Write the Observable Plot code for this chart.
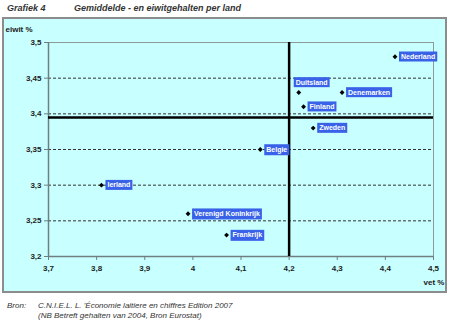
<!DOCTYPE html>
<html><head><meta charset="utf-8">
<script src="https://cdn.jsdelivr.net/npm/d3@7"></script>
<script src="https://cdn.jsdelivr.net/npm/@observablehq/plot@0.6"></script>
<style>
body{margin:0;width:450px;height:325px;background:#fff;font-family:"Liberation Sans",Arial,sans-serif;position:relative;overflow:hidden}
#title{position:absolute;left:7px;top:3px;font-size:9px;font-weight:bold;font-style:italic;color:#333;white-space:nowrap}
#title span{position:absolute;left:67px;top:0}
#panel{position:absolute;left:2px;top:17px;width:441px;height:272px;border:2px solid #8c8c8c;background:#c8ffff}
#panel svg{position:absolute;left:0;top:0}
.foot{position:absolute;font-size:8px;font-style:italic;color:#333;white-space:nowrap}
</style></head>
<body>
<div id="title">Grafiek 4<span>Gemiddelde - en eiwitgehalten per land</span></div>
<div id="panel"></div>
<div class="foot" style="left:7px;top:301px">Bron:</div>
<div class="foot" style="left:38px;top:301px">C.N.I.E.L. L. 'Économie laitiere en chiffres Edition 2007</div>
<div class="foot" style="left:38px;top:311px">(NB Betreft gehalten van 2004, Bron Eurostat)</div>
<script>
const countries = ["Nederland","Duitsland","Denemarken","Finland","Zweden","Belgie","Ierland","Verenigd Koninkrijk","Frankrijk"];
const fat = [4.42, 4.22, 4.31, 4.23, 4.25, 4.14, 3.81, 3.99, 4.07];
const protein = [3.48, 3.43, 3.43, 3.41, 3.38, 3.35, 3.30, 3.26, 3.23];
const xTicks = [3.7, 3.8, 3.9, 4.0, 4.1, 4.2, 4.3, 4.4, 4.5];
const yTicks = [3.2, 3.25, 3.3, 3.35, 3.4, 3.45, 3.5];
const gridTicks = [3.25, 3.3, 3.35, 3.4, 3.45];
const avgFat = 4.2;
const avgProtein = 3.395;
const aboveLabel = ["Duitsland"];

const data = countries.map((c, i) => ({country: c, fat: fat[i], protein: protein[i]}));
const fmt = d => String(+d.toFixed(2)).replace(".", ",");
const FONT = "Liberation Sans, Arial, sans-serif";

const chart = Plot.plot({
  width: 441, height: 272,
  marginLeft: 44, marginRight: 12, marginTop: 23, marginBottom: 35,
  style: {background: "transparent", fontFamily: FONT, fontSize: "8px", color: "#222"},
  x: {domain: [3.7, 4.5]},
  y: {domain: [3.2, 3.5]},
  marks: [
    Plot.gridY(gridTicks, {stroke: "#333", strokeOpacity: 1, strokeWidth: 1, strokeDasharray: "3,2"}),
    Plot.ruleY([3.5], {stroke: "#8c9a9a", strokeWidth: 1}),
    Plot.ruleX([4.5], {stroke: "#8c9a9a", strokeWidth: 1}),
    Plot.ruleY([3.2], {stroke: "#6f7f7f", strokeWidth: 1.5}),
    Plot.ruleX([3.7], {stroke: "#6f7f7f", strokeWidth: 1.5}),
    Plot.axisX({ticks: xTicks, tickFormat: fmt, tickSize: 4, tickPadding: 5, stroke: "#6f7f7f", fontWeight: "bold", label: null}),
    Plot.axisY({ticks: yTicks, tickFormat: fmt, tickSize: 4, tickPadding: 3, stroke: "#6f7f7f", fontWeight: "bold", label: null}),
    Plot.ruleX([avgFat], {stroke: "#000", strokeWidth: 2.5}),
    Plot.ruleY([avgProtein], {stroke: "#000", strokeWidth: 2.5}),
    Plot.dot(data, {x: "fat", y: "protein", symbol: "diamond2", r: 2.2, fill: "#000", stroke: "none"}),
    Plot.text(data.filter(d => !aboveLabel.includes(d.country)), {x: "fat", y: "protein", text: "country", textAnchor: "start", dx: 6, dy: 0, fill: "#fff", fontWeight: "bold", fontSize: 7}),
    Plot.text(data.filter(d => aboveLabel.includes(d.country)), {x: "fat", y: "protein", text: "country", textAnchor: "start", dx: -3, dy: -10, fill: "#fff", fontWeight: "bold", fontSize: 7}),
    Plot.text(["eiwit %"], {frameAnchor: "top-left", dx: -43, dy: -16, text: d => d, textAnchor: "start", fontWeight: "bold", fontSize: 8, fill: "#222"}),
    Plot.text(["vet %"], {frameAnchor: "bottom-right", dx: -10, dy: 28, text: d => d, textAnchor: "start", fontWeight: "bold", fontSize: 8, fill: "#222"})
  ]
});
document.getElementById("panel").appendChild(chart);

// blue boxes behind country labels
chart.querySelectorAll("text").forEach(t => {
  if (!countries.includes(t.textContent)) return;
  const b = t.getBBox();
  const r = document.createElementNS("http://www.w3.org/2000/svg", "rect");
  r.setAttribute("x", b.x - 2);
  r.setAttribute("y", b.y - 1.5);
  r.setAttribute("width", b.width + 4);
  r.setAttribute("height", b.height + 3);
  r.setAttribute("fill", "#3a62e8");
  const tr = t.getAttribute("transform");
  if (tr) r.setAttribute("transform", tr);
  t.parentNode.insertBefore(r, t);
});
</script>
</body></html>
